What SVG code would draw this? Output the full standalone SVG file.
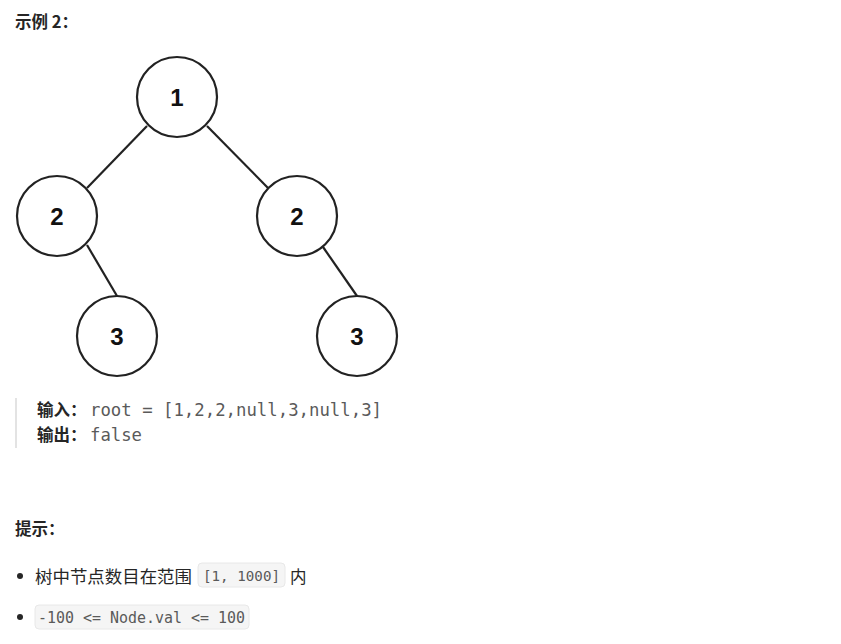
<svg xmlns="http://www.w3.org/2000/svg" width="841" height="644" viewBox="0 0 841 644">
<style>
.node circle{fill:#fff;stroke:#222;stroke-width:2.2}
.node text{font-family:"Liberation Sans",Arial,sans-serif;font-weight:bold;font-size:24px;fill:#111;text-anchor:middle}
.edges line{stroke:#222;stroke-width:2.2}
.h{font-family:"Noto Sans CJK SC","Noto Sans",sans-serif;font-weight:bold;font-size:16.5px;fill:#262626}
.t{font-family:"Noto Sans CJK SC","Noto Sans",sans-serif;font-size:16.5px;fill:#262626}
.m{font-family:"DejaVu Sans Mono","Liberation Mono",monospace;fill:#5a5a5a}
.code{fill:#f5f5f5;stroke:#e8e8e8;stroke-width:1}
</style>
<rect width="841" height="644" fill="#fff"/>
<text class="h" x="15" y="28" font-size="17">示例 2：</text>
<g class="edges">
<line x1="147" y1="126" x2="87" y2="188"/>
<line x1="207" y1="126" x2="268" y2="188"/>
<line x1="87" y1="245" x2="117" y2="296"/>
<line x1="323" y1="247" x2="357" y2="296"/>
</g>
<g id="n1" class="node"><circle cx="177" cy="97" r="40"/><text x="177" y="106">1</text></g>
<g id="n2a" class="node"><circle cx="57" cy="216" r="40"/><text x="57" y="225">2</text></g>
<g id="n2b" class="node"><circle cx="297" cy="216" r="40"/><text x="297" y="225">2</text></g>
<g id="n3a" class="node"><circle cx="117" cy="336" r="40"/><text x="117" y="345">3</text></g>
<g id="n3b" class="node"><circle cx="357" cy="336" r="40"/><text x="357" y="345">3</text></g>
<rect x="15" y="398" width="2" height="50" fill="#e3e3e3"/>
<text class="h" x="37" y="416">输入：</text>
<text class="m" x="90" y="416" font-size="17" textLength="292" lengthAdjust="spacingAndGlyphs">root = [1,2,2,null,3,null,3]</text>
<text class="h" x="37" y="441">输出：</text>
<text class="m" x="90" y="441" font-size="17" textLength="52" lengthAdjust="spacingAndGlyphs">false</text>
<text class="h" x="15" y="535">提示：</text>
<circle cx="20" cy="576" r="3" fill="#262626"/>
<text class="t" x="35" y="583" textLength="157" lengthAdjust="spacingAndGlyphs">树中节点数目在范围</text>
<rect class="code" x="198" y="563" width="87" height="24" rx="4"/>
<text class="m" x="203" y="581" font-size="14.5" textLength="77" lengthAdjust="spacingAndGlyphs">[1, 1000]</text>
<text class="t" x="290" y="583">内</text>
<circle cx="20" cy="617" r="3" fill="#262626"/>
<rect class="code" x="35" y="605" width="214" height="24" rx="4"/>
<text class="m" x="38" y="623" font-size="15" textLength="207" lengthAdjust="spacingAndGlyphs">-100 &lt;= Node.val &lt;= 100</text>
</svg>
